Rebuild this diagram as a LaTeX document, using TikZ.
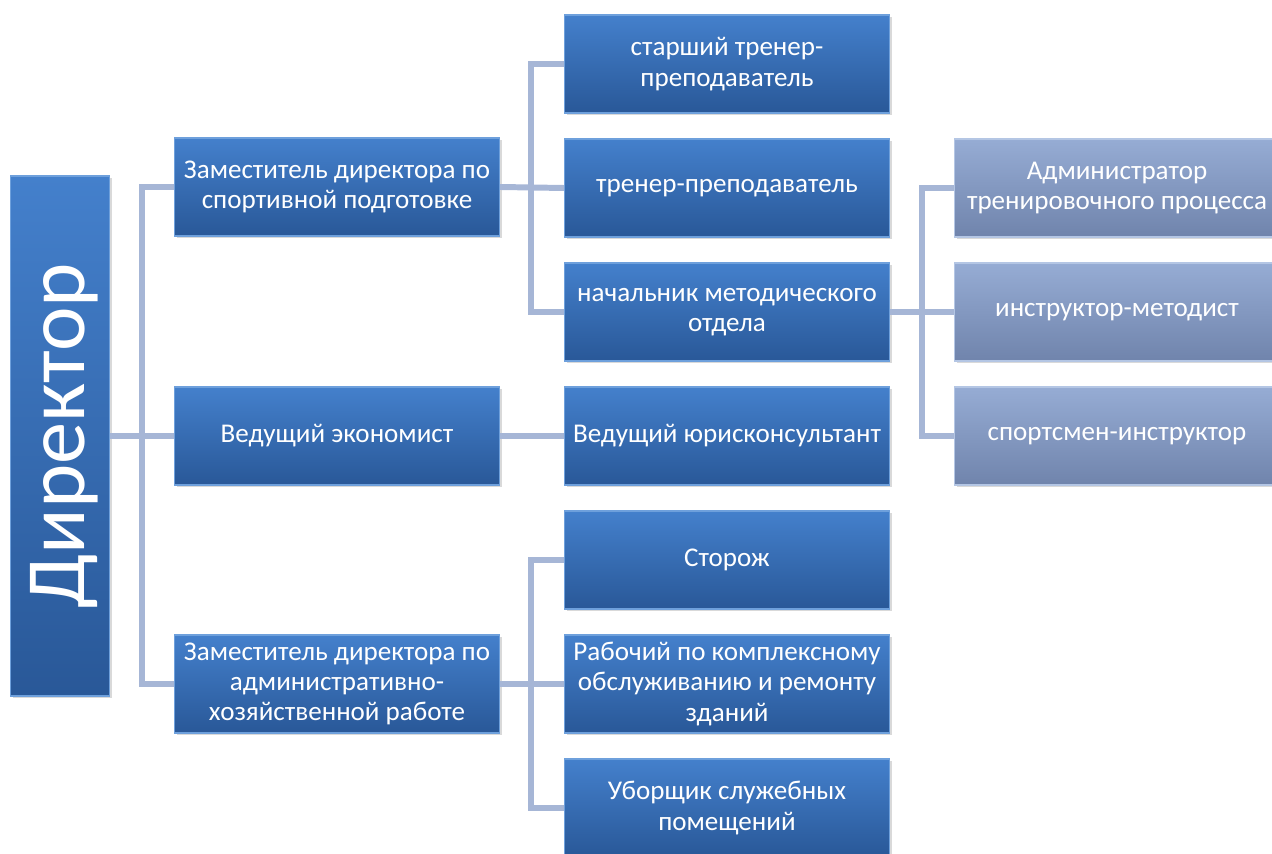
\documentclass[tikz,border=0pt]{standalone}
\usepackage{fontspec}
\usepackage{graphicx}
\setmainfont{Carlito}
\usetikzlibrary{shadows}
\definecolor{boxtop}{RGB}{68,128,204}
\definecolor{boxbot}{RGB}{41,88,152}
\definecolor{boxedge}{RGB}{110,160,220}
\definecolor{ltop}{RGB}{150,172,212}
\definecolor{lbot}{RGB}{112,132,172}
\definecolor{ledge}{RGB}{180,198,228}
\definecolor{linkcol}{RGB}{166,182,214}
\begin{document}
\begin{tikzpicture}[x=0.02cm,y=-0.02cm,font=\fontsize{15.4}{17.2}\selectfont,
	box/.style={rectangle,minimum width=6.5cm,minimum height=1.96cm,
		top color=boxtop,bottom color=boxbot,draw=boxedge,line width=0.8pt,
		text=white,align=center,inner sep=2pt,
		drop shadow={opacity=0.3,shadow xshift=1.2pt,shadow yshift=-1.2pt}},
	lightbox/.style={box,top color=ltop,bottom color=lbot,draw=ledge},
	link/.style={draw=linkcol,line width=3.4pt}]
	\useasboundingbox (0,0) rectangle (1272,854);
	\clip (0,0) rectangle (1272,854);
	% director
	\node[box,minimum width=1.98cm,minimum height=10.4cm] (dir) at (60,436)
	{\hspace{5pt}\rotatebox{90}{\fontsize{48}{50}\selectfont Директор}};
	% deputies
	\node[box] (zam1) at (337,187) {Заместитель директора по\\спортивной подготовке};
	\node[box] (econ) at (337,436) {Ведущий экономист};
	\node[box] (zam2) at (337,684) {Заместитель директора по\\административно-\\хозяйственной работе};
	% third column
	\node[box] (star) at (727,64) {старший тренер-\\преподаватель};
	\node[box] (trener) at (727,188) {тренер-преподаватель};
	\node[box] (nach) at (727,312) {начальник методического\\отдела};
	\node[box] (jur) at (727,436) {Ведущий юрисконсультант};
	\node[box] (stor) at (727,560) {Сторож};
	\node[box] (rab) at (727,684) {Рабочий по комплексному\\обслуживанию и ремонту\\зданий};
	\node[box] (ubor) at (727,808) {Уборщик служебных\\помещений};
	% methodical dept
	\node[lightbox] (adm) at (1117,188) {Администратор\\тренировочного процесса};
	\node[lightbox] (instr) at (1117,312) {инструктор-методист};
	\node[lightbox] (sport) at (1117,436) {спортсмен-инструктор};
	% links
	\draw[link] (dir.east) -- (econ.west);
	\draw[link] (zam1.west) -- ++(-32,0) |- (zam2.west);
	\draw[link] (zam1.east) -- (trener.west);
	\draw[link] (star.west) -- ++(-33,0) |- (nach.west);
	\draw[link] (econ) -- (jur);
	\draw[link] (zam2.east) -- (rab.west);
	\draw[link] (stor.west) -- ++(-33,0) |- (ubor.west);
	\draw[link] (nach.east) -- (instr.west);
	\draw[link] (adm.west) -- ++(-32,0) |- (sport.west);
\end{tikzpicture}
\end{document}
